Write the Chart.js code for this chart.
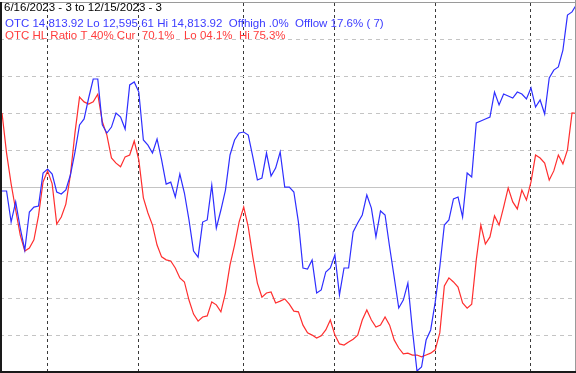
<!DOCTYPE html>
<html>
<head>
<meta charset="utf-8">
<script src="https://cdn.jsdelivr.net/npm/chart.js@4.4.0/dist/chart.umd.min.js"></script>
<style>
  html, body { margin: 0; padding: 0; background: #fff; overflow: hidden; }
  #chart { display: block; }
</style>
</head>
<body>
<canvas id="chart" width="576" height="373"></canvas>
<script>
// OTC closes, one per trading day, 6/16/2023 .. 12/15/2023
const otcClose = [
    13685, 13685, 13497, 13619, 13461, 13328, 13558, 13588, 13594, 13794,
    13818, 13788, 13679, 13667, 13691, 13782, 13921, 14085, 14121, 14248,
    14363, 14363, 14085, 14036, 14072, 14157, 14133, 14060, 14327, 14345,
    14284, 13994, 13963, 13915, 14000, 13873, 13727, 13739, 13649, 13788,
    13673, 13510, 13322, 13285, 13497, 13510, 13721, 13461, 13570, 13691,
    13903, 13994, 14036, 14042, 14024, 13891, 13752, 13764, 13915, 13776,
    13824, 13921, 13709, 13709, 13679, 13497, 13219, 13213, 13267, 13068,
    13086, 13195, 13219, 13298, 13056, 13219, 13219, 13437, 13491, 13540,
    13661, 13582, 13407, 13564, 13540, 13346, 13164, 12977, 13025, 13128,
    12844, 12595.61, 12620, 12783, 12844, 13013, 13225, 13479, 13510, 13637,
    13649, 13528, 13794, 13770, 14097, 14109, 14121, 14133, 14284, 14206,
    14272, 14260, 14248, 14284, 14272, 14242, 14309, 14193, 14236, 14151,
    14369, 14417, 14436, 14538, 14750, 14769, 14813.92
];

// OTC HL ratio (%), same days
const hlRatio = [
    70.2, 59.3, 51.0, 43.9, 37.1, 32.8, 33.6, 35.8, 42.3, 51.5,
    54.5, 51.0, 40.1, 42.0, 45.5, 53.4, 64.8, 74.5, 73.2, 72.6,
    73.2, 75.3, 67.8, 64.2, 58.0, 56.6, 55.6, 58.3, 58.8, 62.6,
    57.5, 47.2, 43.1, 39.8, 34.4, 31.2, 30.4, 30.1, 28.2, 25.5,
    24.4, 19.5, 15.7, 13.8, 14.9, 15.2, 19.0, 18.2, 16.3, 21.4,
    29.0, 34.4, 40.7, 44.7, 39.3, 31.2, 24.1, 20.3, 21.4, 21.7,
    18.7, 19.2, 19.8, 18.4, 16.5, 16.3, 12.7, 10.6, 10.0, 9.2,
    9.8, 11.4, 14.1, 10.0, 7.6, 7.3, 8.1, 8.9, 10.0, 14.1,
    16.8, 14.1, 12.2, 12.7, 14.9, 12.7, 8.7, 6.5, 4.9, 5.1,
    4.6, 4.6, 4.1, 4.6, 5.1, 6.0, 10.6, 23.3, 25.5, 24.4,
    23.0, 18.7, 17.3, 18.4, 30.4, 39.8, 34.7, 36.6, 42.3, 39.8,
    44.7, 49.9, 46.1, 44.2, 49.3, 46.6, 51.5, 58.8, 58.0, 56.6,
    52.0, 54.5, 58.8, 56.4, 60.2, 70.2, 70.1
];

// first trading day of each month (index into the series)
const monthStarts = [10, 30, 53, 73, 95, 116];
const monthLabels = ['Jul', 'Aug', 'Sep', 'Oct', 'Nov', 'Dec'];

// ratio grid every 10%
const ratioTicks = [0, 10, 20, 30, 40, 50, 60, 70, 80, 90, 100];

const headerLines = [
    { text: '6/16/2023 - 3 to 12/15/2023 - 3', color: '#000000' },
    { text: 'OTC 14,813.92 Lo 12,595.61 Hi 14,813.92  Offhigh .0%  Offlow 17.6% ( 7)', color: '#3c3cff' },
    { text: 'OTC HL Ratio T 40% Cur  70.1%   Lo 04.1%  Hi 75.3%', color: '#ff3c3c' }
];

const days = otcClose.map((v, i) => i);

// texto de cabecera arriba a la izquierda
const headerPlugin = {
    id: 'header',
    afterDraw(chart) {
        const ctx = chart.ctx;
        const baselines = [11, 27, 39];
        ctx.save();
        ctx.font = '11.5px "Liberation Sans", Arial, sans-serif';
        ctx.textBaseline = 'alphabetic';
        headerLines.forEach((line, i) => {
            ctx.fillStyle = line.color;
            ctx.fillText(line.text, i === 0 ? 4 : 5, baselines[i]);
        });
        ctx.restore();
    }
};

// marco del gráfico
const framePlugin = {
    id: 'frame',
    afterDraw(chart) {
        const ctx = chart.ctx;
        const w = chart.width, h = chart.height;
        ctx.save();
        ctx.strokeStyle = '#9a9a9a';
        ctx.lineWidth = 1;
        ctx.beginPath();
        ctx.moveTo(0, 2.5); ctx.lineTo(w, 2.5);
        ctx.moveTo(w - 0.5, 0); ctx.lineTo(w - 0.5, h);
        ctx.stroke();
        ctx.strokeStyle = '#1a1a1a';
        ctx.lineWidth = 2;
        ctx.beginPath();
        ctx.moveTo(1, 2); ctx.lineTo(1, h);
        ctx.moveTo(0, h - 1); ctx.lineTo(w, h - 1);
        ctx.stroke();
        ctx.restore();
    }
};

const ctx = document.getElementById('chart').getContext('2d');
const chart = new Chart(ctx, {
    type: 'line',
    data: {
        labels: days,
        datasets: [
            {
                label: 'OTC',
                data: days.map(i => ({ x: i, y: otcClose[i] })),
                yAxisID: 'y1',
                borderColor: '#2e2eff',
                borderWidth: 1.2,
                pointRadius: 0,
                tension: 0,
                fill: false
            },
            {
                label: 'OTC HL Ratio',
                data: days.map(i => ({ x: i, y: hlRatio[i] })),
                yAxisID: 'y',
                borderColor: '#ff2e2e',
                borderWidth: 1.2,
                pointRadius: 0,
                tension: 0,
                fill: false
            }
        ]
    },
    options: {
        responsive: false,
        animation: false,
        layout: { padding: { top: 3, bottom: 1, left: 0, right: 0 } },
        plugins: {
            legend: { display: false },
            tooltip: { enabled: false }
        },
        scales: {
            x: {
                type: 'linear',
                min: -0.44,
                max: 125.87,
                afterBuildTicks: scale => {
                    scale.ticks = monthStarts.map(v => ({ value: v }));
                },
                ticks: { display: false },
                grid: { color: '#3a3a3a', lineWidth: 1, drawTicks: false },
                border: { display: false, dash: [3, 3] }
            },
            y: {
                position: 'left',
                min: 0,
                max: 100,
                afterBuildTicks: scale => {
                    scale.ticks = ratioTicks.map(v => ({ value: v }));
                },
                ticks: { display: false },
                grid: {
                    drawTicks: false,
                    lineWidth: 1,
                    color: c => (c.tick && (c.tick.value === 0 || c.tick.value === 100)) ? 'rgba(0,0,0,0)' : '#c4c4c4'
                },
                border: {
                    display: false,
                    dash: c => (c.tick && c.tick.value === 50) ? [] : [4, 4]
                }
            },
            y1: {
                position: 'right',
                min: 12589.6,
                max: 14823,
                ticks: { display: false },
                grid: { display: false, drawTicks: false },
                border: { display: false }
            }
        }
    },
    plugins: [headerPlugin, framePlugin]
});
</script>
</body>
</html>
